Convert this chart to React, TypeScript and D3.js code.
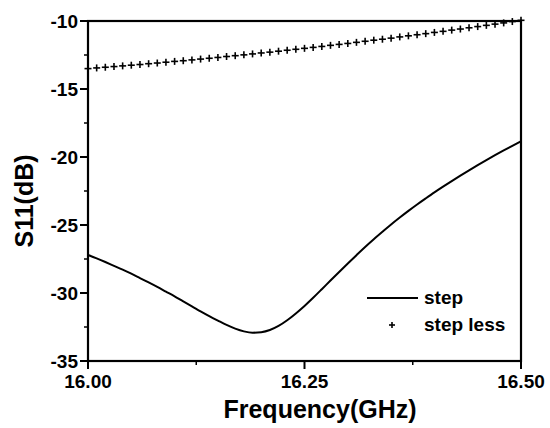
import React from "react";
import * as d3 from "d3";

const freqs: number[] = [
  16.0, 16.01, 16.02, 16.03, 16.04, 16.05, 16.06, 16.07, 16.08, 16.09,
  16.1, 16.11, 16.12, 16.13, 16.14, 16.15, 16.16, 16.17, 16.18, 16.19,
  16.2, 16.21, 16.22, 16.23, 16.24, 16.25, 16.26, 16.27, 16.28, 16.29,
  16.3, 16.31, 16.32, 16.33, 16.34, 16.35, 16.36, 16.37, 16.38, 16.39,
  16.4, 16.41, 16.42, 16.43, 16.44, 16.45, 16.46, 16.47, 16.48, 16.49, 16.5,
];

const stepValues: number[] = [
  -27.2, -27.45, -27.72, -28.0, -28.28, -28.58, -28.9, -29.22, -29.55, -29.9,
  -30.25, -30.62, -30.98, -31.35, -31.7, -32.03, -32.35, -32.62, -32.82, -32.92,
  -32.88, -32.72, -32.42, -32.0, -31.5, -30.95, -30.35, -29.72, -29.08, -28.45,
  -27.83, -27.22, -26.62, -26.05, -25.5, -24.96, -24.45, -23.96, -23.49, -23.04,
  -22.6, -22.18, -21.77, -21.37, -20.98, -20.6, -20.23, -19.87, -19.52, -19.18, -18.85,
];

const stepLessValues: number[] = [
  -13.5, -13.45, -13.4, -13.35, -13.3, -13.25, -13.2, -13.14, -13.09, -13.03,
  -12.97, -12.92, -12.86, -12.8, -12.74, -12.68, -12.61, -12.55, -12.49, -12.42,
  -12.35, -12.29, -12.22, -12.15, -12.08, -12.01, -11.94, -11.87, -11.79, -11.72,
  -11.65, -11.57, -11.49, -11.41, -11.34, -11.26, -11.17, -11.09, -11.01, -10.93,
  -10.84, -10.76, -10.67, -10.59, -10.5, -10.41, -10.32, -10.23, -10.14, -10.04, -9.95,
];

const xTicks: number[] = [16.0, 16.25, 16.5];
const xTickLabels: string[] = ["16.00", "16.25", "16.50"];
const xMinorTicks: number[] = [16.125, 16.375];
const yTicks: number[] = [-10, -15, -20, -25, -30, -35];
const yMinorTicks: number[] = [-12.5, -17.5, -22.5, -27.5, -32.5];
const legendLabels: string[] = ["step", "step less"];
const xTitle = "Frequency(GHz)";
const yTitle = "S11(dB)";

const W = 550;
const H = 428;
const M = { left: 88, right: 29, top: 21, bottom: 67 };
const FONT = "'Liberation Sans', Arial, Helvetica, sans-serif";

export default function App() {
  const x = d3.scaleLinear().domain([16.0, 16.5]).range([M.left, W - M.right]);
  const y = d3.scaleLinear().domain([-35, -10]).range([H - M.bottom, M.top]);
  const x0 = x.range()[0];
  const x1 = x.range()[1];
  const y0 = y.range()[0];
  const y1 = y.range()[1];

  const stepData = freqs.map((f, i) => [f, stepValues[i]] as [number, number]);
  const lessData = freqs.map((f, i) => [f, stepLessValues[i]] as [number, number]);
  const line = d3
    .line<[number, number]>()
    .x((d) => x(d[0]))
    .y((d) => y(d[1]))
    .curve(d3.curveMonotoneX);

  const plus = (cx: number, cy: number, s: number, key: string | number) => (
    <g key={key} stroke="#000" strokeWidth={1.6}>
      <line x1={cx - s} x2={cx + s} y1={cy} y2={cy} />
      <line x1={cx} x2={cx} y1={cy - s} y2={cy + s} />
    </g>
  );

  return (
    <svg
      width={W}
      height={H}
      style={{ position: "absolute", left: 0, top: 0, background: "#fff" }}
      fontFamily={FONT}
    >
      <rect x={0} y={0} width={W} height={H} fill="#fff" />
      {/* series */}
      <path d={line(stepData) || ""} fill="none" stroke="#000" strokeWidth={2} />
      {lessData.map((d, i) => plus(x(d[0]), y(d[1]), 3.5, i))}

      {/* frame */}
      <rect x={x0} y={y1} width={x1 - x0} height={y0 - y1} fill="none" stroke="#000" strokeWidth={2.2} />

      {/* y ticks */}
      {yTicks.map((t) => (
        <g key={"y" + t}>
          <line x1={x0 - 8} x2={x0} y1={y(t)} y2={y(t)} stroke="#000" strokeWidth={2} />
          <text x={x0 - 10} y={y(t)} dy="0.36em" textAnchor="end" fontSize={19} fontWeight="bold">
            {t}
          </text>
        </g>
      ))}
      {yMinorTicks.map((t) => (
        <line key={"ym" + t} x1={x0 - 4} x2={x0} y1={y(t)} y2={y(t)} stroke="#000" strokeWidth={1.5} />
      ))}

      {/* x ticks */}
      {xTicks.map((t, i) => (
        <g key={"x" + t}>
          <line x1={x(t)} x2={x(t)} y1={y0} y2={y0 + 8} stroke="#000" strokeWidth={2} />
          <text x={x(t)} y={y0 + 27} textAnchor="middle" fontSize={19} fontWeight="bold">
            {xTickLabels[i]}
          </text>
        </g>
      ))}
      {xMinorTicks.map((t) => (
        <line key={"xm" + t} x1={x(t)} x2={x(t)} y1={y0} y2={y0 + 4} stroke="#000" strokeWidth={1.5} />
      ))}

      {/* titles */}
      <text x={320} y={418} textAnchor="middle" fontSize={25} fontWeight="bold">
        {xTitle}
      </text>
      <text
        transform={`translate(33, ${(y0 + y1) / 2 + 10}) rotate(-90)`}
        textAnchor="middle"
        fontSize={25}
        fontWeight="bold"
      >
        {yTitle}
      </text>

      {/* legend */}
      <line x1={367} x2={418} y1={298} y2={298} stroke="#000" strokeWidth={2} />
      <text x={424} y={304} fontSize={19} fontWeight="bold">
        {legendLabels[0]}
      </text>
      {plus(392, 325, 3, "leg")}
      <text x={424} y={331} fontSize={19} fontWeight="bold">
        {legendLabels[1]}
      </text>
    </svg>
  );
}
